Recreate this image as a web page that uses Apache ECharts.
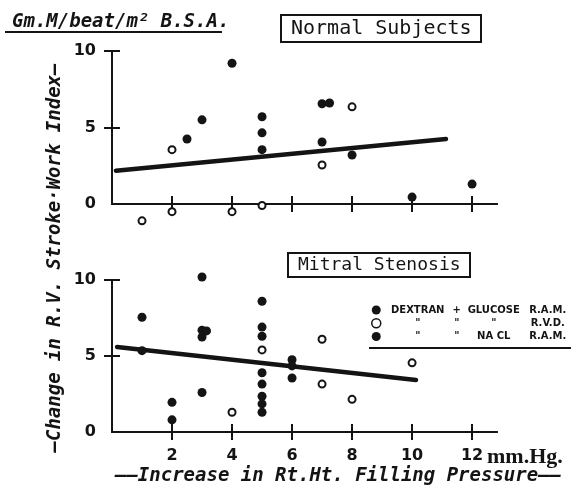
<!DOCTYPE html>
<html>
<head>
<meta charset="utf-8">
<script src="https://cdn.jsdelivr.net/npm/echarts@6/dist/echarts.min.js"></script>
<style>
  html, body { margin: 0; padding: 0; background: #fff; }
  #chart { width: 571px; height: 495px; }
</style>
</head>
<body>
<div id="chart"></div>
<script>
// RV stroke work index change vs. rise in right heart filling pressure

const xTicks = [2, 4, 6, 8, 10, 12];
const yTicks = [5, 10];
const yLabels = [0, 5, 10];

// Normal subjects
const normalRAM = [[2.5, 4.25], [3, 5.5], [4, 9.2], [5, 5.7], [5, 4.65], [5, 3.55],
                   [7, 6.55], [7.25, 6.6], [7, 4.05], [8, 3.2], [10, 0.45], [12, 1.3]];
const normalRVD = [[1, -1.1], [2, 3.55], [2, -0.5], [4, -0.5], [5, -0.1], [7, 2.55], [8, 6.35]];
const normalFit = [[0.13, 2.18], [11.13, 4.25]];

// Mitral stenosis
const mitralRAM = [[1, 7.55], [1, 5.35], [2, 1.95], [2, 0.8], [3, 10.2], [3, 6.7], [3.15, 6.65],
                   [3, 6.25], [3, 2.6], [5, 8.6], [5, 6.9], [5, 6.3], [5, 3.9], [5, 3.15],
                   [5, 2.35], [5, 1.85], [5, 1.3], [6, 4.75], [6, 4.35], [6, 3.55]];
const mitralRVD = [[4, 1.3], [5, 5.4], [7, 6.1], [7, 3.15], [8, 2.15], [10, 4.55]];
const mitralFit = [[0.17, 5.59], [10.13, 3.42]];

// NaCl runs share the solid marker; none are plotted separately
const naclRAM = [];

const legendRows = {
  'Dextran + glucose R.A.M.': ['DEXTRAN', '+', 'GLUCOSE', 'R.A.M.'],
  'Dextran + glucose R.V.D.': ['"', '"', '"', 'R.V.D.'],
  'NaCl R.A.M.': ['"', '"', 'NA CL', 'R.A.M.']
};

const INK = '#141414';
const tickFont = { fontFamily: 'DejaVu Sans', fontWeight: 'bold', fontSize: 16, color: INK };
const XMAX = 12.83;

function xAxisFor(grid, inside, labels) {
  return {
    type: 'value', gridIndex: grid, min: 0, max: XMAX, position: 'bottom',
    axisLine: { show: true, onZero: false, lineStyle: { color: INK, width: 2 } },
    axisTick: { show: true, inside: inside, length: 8, customValues: xTicks,
                lineStyle: { color: INK, width: 2 } },
    axisLabel: Object.assign({ show: labels, customValues: xTicks, margin: 16 }, tickFont),
    splitLine: { show: false }
  };
}
function yAxisFor(grid, inside, labels) {
  return {
    type: 'value', gridIndex: grid, min: 0, max: 10, position: 'left',
    axisLine: { show: true, onZero: false, lineStyle: { color: INK, width: 2 } },
    axisTick: { show: true, inside: inside, length: 8, customValues: yTicks,
                lineStyle: { color: INK, width: 2 } },
    axisLabel: Object.assign({ show: labels, customValues: yLabels, margin: 16 }, tickFont),
    splitLine: { show: false }
  };
}

function solid(name, xi, data) {
  return { type: 'scatter', name: name, xAxisIndex: xi, yAxisIndex: xi, data: data,
           symbol: 'circle', symbolSize: 9, clip: false, z: 4,
           itemStyle: { color: INK, opacity: 1 } };
}
function hollow(name, xi, data) {
  return { type: 'scatter', name: name, xAxisIndex: xi, yAxisIndex: xi, data: data,
           symbol: 'circle', symbolSize: 7, clip: false, z: 4,
           itemStyle: { color: '#fff', borderColor: INK, borderWidth: 2, opacity: 1 } };
}
function fit(xi, data) {
  return { type: 'line', name: 'fit', xAxisIndex: xi, yAxisIndex: xi, data: data,
           showSymbol: false, silent: true, z: 3,
           lineStyle: { color: INK, width: 4.5, cap: 'round' } };
}

const richCell = { fontFamily: 'DejaVu Sans', fontWeight: 'bold', fontSize: 10, color: INK };
const italicFont = 'italic bold 19px "DejaVu Sans Mono"';

const chart = echarts.init(document.getElementById('chart'), null, { renderer: 'canvas' });
chart.setOption({
  backgroundColor: '#fff',
  animation: false,
  title: [
    { text: 'Normal Subjects', left: 281, top: 15, padding: [4, 10, 3, 10],
      borderColor: INK, borderWidth: 2,
      textStyle: { fontFamily: 'DejaVu Sans Mono', fontSize: 20, fontWeight: 'normal', color: INK } },
    { text: 'Mitral Stenosis', left: 288, top: 253, padding: [3, 10, 3, 10],
      borderColor: INK, borderWidth: 2,
      textStyle: { fontFamily: 'DejaVu Sans Mono', fontSize: 18, fontWeight: 'normal', color: INK } }
  ],
  grid: [
    { left: 112, top: 51, width: 385, height: 153 },
    { left: 112, top: 280, width: 385, height: 152 }
  ],
  xAxis: [xAxisFor(0, true, false), xAxisFor(0, false, false),
          xAxisFor(1, true, false), xAxisFor(1, false, true)],
  yAxis: [yAxisFor(0, false, true), yAxisFor(0, true, false),
          yAxisFor(1, false, true), yAxisFor(1, true, false)],
  legend: {
    data: Object.keys(legendRows).map(function (n) {
      return n.indexOf('R.V.D.') >= 0 ? { name: n, itemStyle: { borderWidth: 1.5 } } : { name: n };
    }),
    orient: 'vertical', left: 366, top: 300,
    itemWidth: 9, itemHeight: 9, itemGap: 3,
    selectedMode: false,
    formatter: function (name) {
      const r = legendRows[name];
      return '{a|' + r[0] + '}{b|' + r[1] + '}{c|' + r[2] + '}{d|' + r[3] + '}';
    },
    textStyle: {
      rich: {
        a: Object.assign({ width: 64, align: 'center' }, richCell),
        b: Object.assign({ width: 14, align: 'center' }, richCell),
        c: Object.assign({ width: 60, align: 'center' }, richCell),
        d: Object.assign({ width: 44, align: 'left', padding: [0, 0, 0, 2] }, richCell)
      }
    }
  },
  graphic: [
    { type: 'text', x: 12, y: 22,
      style: { text: 'Gm.M/beat/m² B.S.A.', font: italicFont, fill: INK, align: 'left', verticalAlign: 'middle' } },
    { type: 'line', shape: { x1: 5, y1: 32, x2: 222, y2: 32 }, style: { stroke: INK, lineWidth: 2 } },
    { type: 'line', shape: { x1: 369, y1: 348, x2: 571, y2: 348 }, style: { stroke: INK, lineWidth: 2 } },
    { type: 'text', x: 55, y: 258, rotation: Math.PI / 2,
      style: { text: '—Change in R.V. Stroke·Work Index—', font: italicFont, fill: INK,
               align: 'center', verticalAlign: 'middle' } },
    { type: 'text', x: 338, y: 476,
      style: { text: '——Increase in Rt.Ht. Filling Pressure——', font: italicFont, fill: INK,
               align: 'center', verticalAlign: 'middle' } },
    { type: 'text', x: 487, y: 457,
      style: { text: 'mm.Hg.', font: 'bold 22px "Liberation Serif"', fill: INK,
               align: 'left', verticalAlign: 'middle' } }
  ],
  series: [
    fit(0, normalFit),
    solid('Dextran + glucose R.A.M.', 0, normalRAM),
    hollow('Dextran + glucose R.V.D.', 0, normalRVD),
    fit(2, mitralFit),
    solid('Dextran + glucose R.A.M.', 2, mitralRAM),
    hollow('Dextran + glucose R.V.D.', 2, mitralRVD),
    solid('NaCl R.A.M.', 2, naclRAM)
  ]
});
</script>
</body>
</html>
